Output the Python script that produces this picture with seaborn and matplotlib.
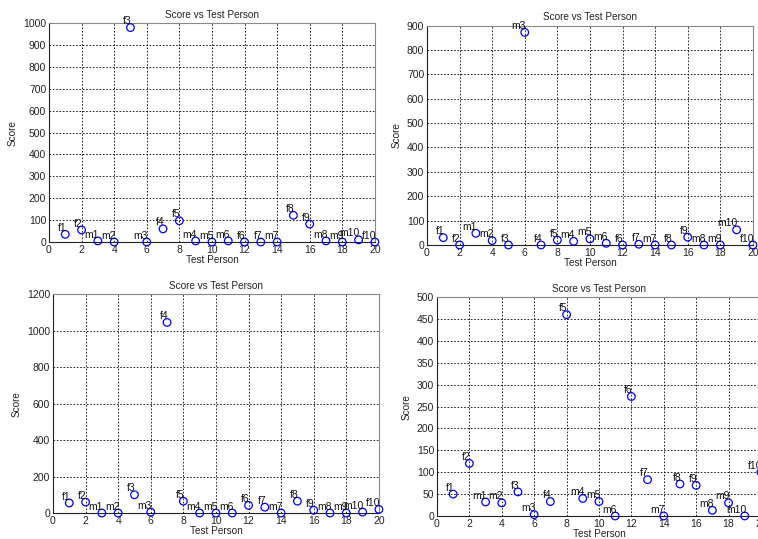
import matplotlib
matplotlib.use("Agg")
import matplotlib.pyplot as plt
import seaborn as sns
import pandas as pd

sns.set_style("white")
plt.rcParams['font.family'] = ['Liberation Sans', 'DejaVu Sans']

persons = list(range(1, 21))
labels = ["f1", "f2", "m1", "m2", "f3", "m3", "f4", "f5", "m4", "m5",
          "m6", "f6", "f7", "m7", "f8", "f9", "m8", "m9", "m10", "f10"]

scores_a = [35, 55, 5, 0, 980, 0, 60, 97, 5, 0, 5, 0, 0, 0, 122, 82, 5, 0, 10, 0]
scores_b = [30, 0, 48, 18, 0, 872, 0, 20, 15, 25, 7, 0, 3, 0, 0, 32, 0, 0, 62, 0]
scores_c = [55, 60, 0, 0, 100, 5, 1045, 65, 0, 0, 0, 42, 32, 0, 65, 15, 0, 0, 5, 20]
scores_d = [50, 120, 32, 30, 55, 3, 33, 460, 40, 33, 0, 273, 83, 0, 73, 70, 13, 30, 0, 100]

panels = [
    (scores_a, 1000, 100, [0.0646, 0.551, 0.430, 0.406]),
    (scores_b, 900, 100, [0.5633, 0.5455, 0.430, 0.407]),
    (scores_c, 1200, 200, [0.0699, 0.0482, 0.430, 0.406]),
    (scores_d, 500, 50, [0.5765, 0.0427, 0.4274, 0.406]),
]

fig = plt.figure(figsize=(7.58, 5.39), dpi=100)

for scores, ymax, ystep, rect in panels:
    ax = fig.add_axes(rect)
    df = pd.DataFrame({"person": persons, "score": scores, "label": labels})
    sns.scatterplot(data=df, x="person", y="score", ax=ax, marker="o", s=30,
                    facecolor="none", edgecolor="#0000ff", linewidth=0.9,
                    clip_on=False, zorder=5)
    for x, y, t in zip(persons, scores, labels):
        ax.annotate(t, (x, y), xytext=(1, 1), textcoords="offset points",
                    ha="right", va="bottom", fontsize=7.5, color="#111111",
                    annotation_clip=False, zorder=6)
    ax.set_xlim(0, 20)
    ax.set_ylim(0, ymax)
    ax.set_xticks(range(0, 21, 2))
    ax.set_yticks(range(0, ymax + 1, ystep))
    ax.grid(True, color="black", linestyle=(0, (2, 2)), linewidth=0.6)
    ax.tick_params(direction="in", length=3, labelsize=7.5, pad=2, colors="#222222")
    for side in ["top", "right"]:
        ax.spines[side].set_color("#888888")
    for side in ["left", "bottom"]:
        ax.spines[side].set_color("#222222")
    for sp in ax.spines.values():
        sp.set_linewidth(0.8)
    ax.set_title("Score vs Test Person", fontsize=7.2, pad=4, color="#222222")
    ax.set_xlabel("Test Person", fontsize=7.2, labelpad=0, color="#222222")
    ax.set_ylabel("Score", fontsize=7.2, labelpad=4, color="#222222")

fig.savefig("out.png", dpi=100)
